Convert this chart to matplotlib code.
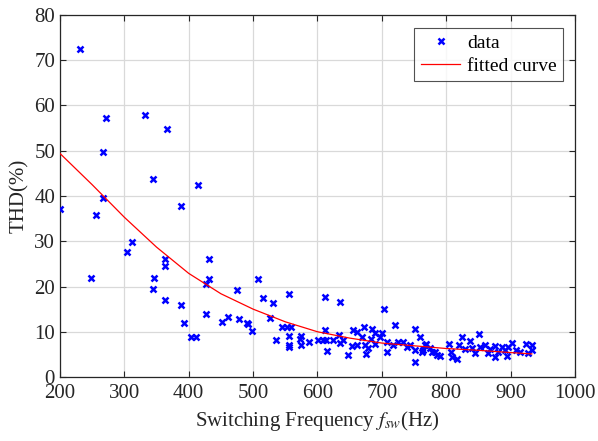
import matplotlib
matplotlib.use("Agg")
import matplotlib.pyplot as plt

# measured data points (switching frequency Hz, THD %)
freq = [231, 271, 332, 366, 267, 344, 414, 267, 388, 200, 256,
        312, 304, 363, 363, 431, 431, 427, 248, 346, 344, 475, 363, 388,
        427, 393, 452, 461, 478, 492, 403, 412,
        507, 515, 531, 556, 611, 635, 703, 720, 751, 490, 498, 526, 535,
        545, 552, 559, 556, 556, 556, 573, 574, 574, 587, 601, 608, 613,
        611, 615, 624, 633, 635, 639, 647, 655, 661, 653, 661, 672, 669,
        674, 675, 678, 684, 683, 689, 700, 697, 689, 708, 708, 717, 725,
        733, 739, 743, 751, 751, 759, 767, 762, 778, 785,
        768, 764, 775, 782, 790, 804, 807, 809, 816, 824, 820, 829, 837,
        840, 844, 851, 852, 860, 865, 868, 875, 875, 880, 886, 891, 894,
        896, 902, 908, 914, 924, 927, 933, 933]
thd = [72.5, 57.2, 57.9, 54.8, 49.7, 43.8, 42.4, 39.6, 37.8, 37.1, 35.8,
       29.8, 27.6, 26.1, 24.5, 26.1, 21.7, 20.6, 21.9, 21.9, 19.4, 19.2, 17.0, 15.9,
       13.9, 11.9, 12.2, 13.3, 12.8, 11.7, 8.8, 8.8,
       21.7, 17.5, 16.3, 18.3, 17.7, 16.6, 15.0, 11.5, 10.6, 11.9, 10.2, 13.0, 8.2,
       11.0, 11.0, 11.0, 9.1, 7.1, 6.6, 8.4, 9.1, 7.1, 7.7, 8.2, 8.2, 8.2,
       10.4, 5.7, 8.2, 9.3, 7.5, 8.2, 4.9, 10.4, 9.9, 6.9, 7.1, 11.0, 8.8,
       7.1, 5.1, 6.4, 10.6, 8.4, 9.7, 9.7, 8.8, 7.3, 7.7, 5.5, 7.1, 7.7,
       7.7, 6.6, 7.1, 3.3, 6.0, 8.8, 7.1, 5.5, 5.5, 4.9,
       7.3, 6.0, 6.4, 5.5, 4.6, 7.3, 5.5, 4.4, 4.0, 8.8, 7.1, 6.2, 7.9,
       6.4, 5.3, 9.5, 6.6, 7.1, 5.3, 6.2, 6.8, 4.4, 5.5, 6.6, 6.0, 4.6,
       6.6, 7.5, 6.0, 5.5, 7.3, 5.3, 7.1, 6.0]

# fitted curve
fit_freq = [200, 250, 300, 350, 400, 450, 500, 550, 600, 650, 700, 750,
            800, 850, 900, 933]
fit_thd = [49.4, 42.5, 35.3, 28.7, 22.9, 18.4, 15.0, 12.2, 10.0, 8.6, 7.5,
           6.9, 6.3, 5.9, 5.4, 5.1]

xticks = [200, 300, 400, 500, 600, 700, 800, 900, 1000]
yticks = [0, 10, 20, 30, 40, 50, 60, 70, 80]

plt.rcParams['font.family'] = ['Liberation Serif', 'DejaVu Serif']
plt.rcParams['mathtext.fontset'] = 'stix'

fig = plt.figure(figsize=(5.98, 4.41), dpi=100)
ax = fig.add_axes([0.1003, 0.1451, 0.8612, 0.8209])

ax.plot(freq, thd, linestyle='none', marker='x', color='#0000ff',
        markersize=5, markeredgewidth=1.8, label='data', zorder=3)
ax.plot(fit_freq, fit_thd, color='#ff0000', linewidth=0.9,
        label='fitted curve', zorder=4)

ax.set_xlim(200, 1000)
ax.set_ylim(0, 80)
ax.set_xticks(xticks)
ax.set_yticks(yticks)
ax.grid(True, color='#d9d9d9', linewidth=0.9)
ax.set_axisbelow(True)
ax.tick_params(direction='in', top=True, right=True, length=4,
               labelsize=15, colors='#262626', width=0.8)
ax.tick_params(axis='x', pad=5)
for s in ax.spines.values():
    s.set_color('#262626')
    s.set_linewidth(0.9)

ax.set_xlabel('Switching Frequency $f_{sw}$(Hz)', fontsize=15,
              color='#262626', labelpad=4)
ax.set_ylabel('THD(%)', fontsize=15, color='#262626', labelpad=4)

leg = ax.legend(loc='upper right', bbox_to_anchor=(0.9775, 0.965),
                fontsize=14, frameon=True, fancybox=False,
                borderpad=0.35, labelspacing=0.25, handlelength=2.0,
                handletextpad=0.35, borderaxespad=0.0, markerscale=0.8)
leg.get_frame().set_edgecolor('#262626')
leg.get_frame().set_linewidth(0.8)

fig.savefig('out.png', dpi=100)
